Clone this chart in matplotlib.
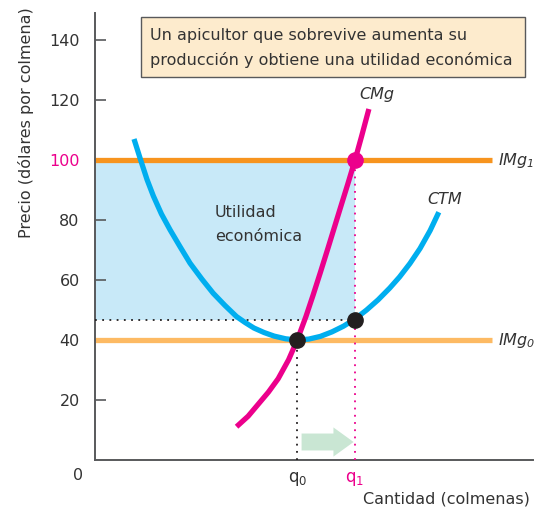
import matplotlib
matplotlib.use("Agg")
import matplotlib.pyplot as plt
import matplotlib.patches as mpatches

plt.rcParams['font.family'] = ['DejaVu Sans']
plt.rcParams['mathtext.default'] = 'regular'

# values (quantity in arbitrary units, price in $ per colmena)
q0 = 7.0
q1 = 9.0
img0 = 40
img1 = 100
ctm_at_q1 = 46.7

cmg_x = [4.9, 5.3, 5.65, 6.0, 6.34, 6.7, 7.0, 7.3, 7.55, 7.8, 8.07, 8.3, 8.54,
         8.75, 9.0, 9.23, 9.48]
cmg_y = [11.1, 14.6, 18.6, 22.6, 27.1, 33.4, 40, 47.8, 55, 62.5, 70.8, 78, 85.5,
         92, 100, 108, 117]

ctm_x = [1.35, 1.58, 1.8, 2.02, 2.3, 2.6, 2.95, 3.29, 3.7, 4.09, 4.5, 4.9, 5.2,
         5.5, 5.85, 6.2, 6.6, 7.0, 7.4, 7.8, 8.2, 8.6, 9.0, 9.4, 9.8, 10.2,
         10.54, 10.9, 11.25, 11.6, 11.9]
ctm_y = [107, 100, 93.5, 88, 82, 76.7, 71, 65.6, 60.3, 55.6, 51.5, 47.8, 45.8,
         44, 42.5, 41.3, 40.4, 40, 40.3, 41.2, 42.7, 44.6, 47, 50, 53.4, 57.3,
         61, 65.5, 70.5, 76.5, 82.6]

yticks = [20, 40, 60, 80, 100, 120, 140]
line_end = 13.74

txt = '#333333'
fig = plt.figure(figsize=(5.39, 5.11), dpi=100)
ax = fig.add_axes([95 / 539, 51 / 511, 438 / 539, 447 / 511])
ax.set_xlim(0, 15.16)
ax.set_ylim(0, 149)

# shaded economic profit
ax.fill_between([0, q1], ctm_at_q1, img1, color='#C8E9F8', lw=0, zorder=1)

# revenue lines
ax.plot([0, line_end], [img1, img1], color='#F7941E', lw=3.8, zorder=2, solid_capstyle='butt')
ax.plot([0, line_end], [img0, img0], color='#FDBA63', lw=3.8, zorder=2, solid_capstyle='butt')

# guide lines
ax.plot([0, q1], [ctm_at_q1, ctm_at_q1], color='#231F20', lw=1.3, ls=(0, (1, 3)), zorder=3)
ax.plot([q0, q0], [0, img0], color='#231F20', lw=1.3, ls=(0, (1, 3)), zorder=3)
ax.plot([q1, q1], [0, img1], color='#EC008C', lw=1.3, ls=(0, (1, 3)), zorder=3)

# cost curves
ax.plot(ctm_x, ctm_y, color='#00AEEF', lw=3.8, zorder=4, solid_capstyle='butt',
        solid_joinstyle='round')
ax.plot(cmg_x, cmg_y, color='#EC008C', lw=3.8, zorder=5, solid_capstyle='butt',
        solid_joinstyle='round')

# points
ax.plot([q0, q1], [img0, ctm_at_q1], 'o', color='#231F20', ms=11, zorder=6)
ax.plot([q1], [img1], 'o', color='#EC008C', ms=11, zorder=6)

# arrow showing the increase in output
ax.annotate('', xy=(q1 - 0.05, 6), xytext=(q0 + 0.15, 6),
            arrowprops=dict(arrowstyle='simple,head_length=1.45,head_width=2.1,tail_width=1.22',
                            fc='#C9E6D3', ec='none', shrinkA=0, shrinkB=0,
                            mutation_scale=10), zorder=2)

# axes styling
for s in ['top', 'right']:
    ax.spines[s].set_visible(False)
for s in ['left', 'bottom']:
    ax.spines[s].set_color('#58595B')
    ax.spines[s].set_linewidth(1.4)
ax.set_yticks(yticks)
ax.tick_params(axis='y', direction='in', length=8, width=1.2, color='#58595B',
               labelsize=11.5, labelcolor=txt, pad=11)
ax.set_xticks([q0, q1])
ax.set_xticklabels(['q$_0$', 'q$_1$'], fontsize=12)
ax.tick_params(axis='x', length=0, pad=7)
ax.get_xticklabels()[0].set_color(txt)
ax.get_xticklabels()[1].set_color('#EC008C')
for lab in ax.get_yticklabels():
    if lab.get_text() == '100':
        lab.set_color('#EC008C')

fig.text(78 / 539, 1 - 475 / 511, '0', fontsize=11.5, color=txt, ha='center', va='center')
fig.text(530 / 539, 1 - 499 / 511, 'Cantidad (colmenas)', fontsize=11.5, color=txt,
         ha='right', va='center')
fig.text(26 / 539, 1 - 123 / 511, 'Precio (dólares por colmena)', fontsize=11.5, color=txt,
         ha='center', va='center', rotation=90)

# curve labels
ax.text(line_end + 0.2, img1, 'IMg$_1$', fontsize=11.5, style='italic', color=txt, va='center')
ax.text(line_end + 0.2, img0, 'IMg$_0$', fontsize=11.5, style='italic', color=txt, va='center')
ax.text(9.75, 122, 'CMg', fontsize=11.5, style='italic', color=txt, ha='center', va='center')
ax.text(12.1, 87, 'CTM', fontsize=11.5, style='italic', color=txt, ha='center', va='center')
ax.text(4.15, 78.5, 'Utilidad\neconómica', fontsize=11.5, color=txt, ha='left', va='center',
        linespacing=1.7)

# caption box
fig.patches.append(mpatches.Rectangle((141 / 539, 1 - 77 / 511), 384 / 539, 60 / 511,
                                      transform=fig.transFigure, fc='#FDEBCD', ec='#58595B', lw=1))
fig.text(150 / 539, 1 - 48 / 511,
         'Un apicultor que sobrevive aumenta su\nproducción y obtiene una utilidad económica',
         fontsize=11.5, color=txt, ha='left', va='center', linespacing=1.7)

fig.savefig('out.png', dpi=100)
